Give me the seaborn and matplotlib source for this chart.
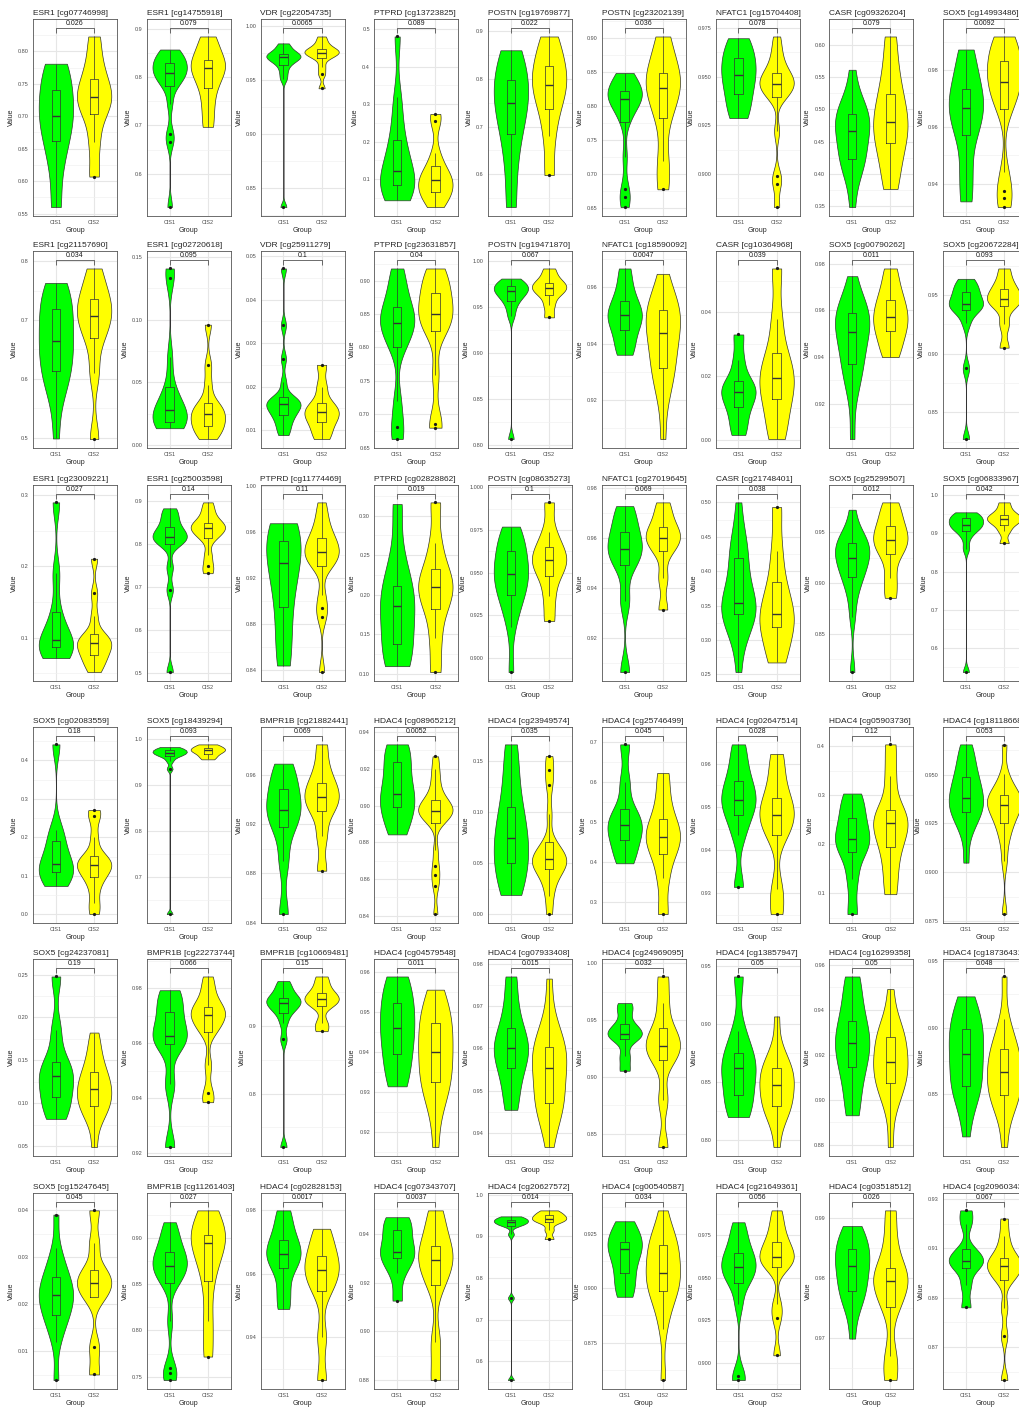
"""
Violin + box plots of probe methylation values, CIS1 vs CIS2, one panel per probe.
"""

import numpy as np
import pandas as pd
import matplotlib
matplotlib.use('Agg')
import matplotlib.pyplot as plt
import seaborn as sns

GROUPS = ['CIS1', 'CIS2']
PALETTE = {'CIS1': '#00FF00', 'CIS2': '#FFFF00'}

GENES = [
    'ESR1', 'ESR1', 'VDR', 'PTPRD', 'POSTN', 'POSTN', 'NFATC1', 'CASR', 'SOX5',
    'ESR1', 'ESR1', 'VDR', 'PTPRD', 'POSTN', 'NFATC1', 'CASR', 'SOX5', 'SOX5',
    'ESR1', 'ESR1', 'PTPRD', 'PTPRD', 'POSTN', 'NFATC1', 'CASR', 'SOX5', 'SOX5',
    'SOX5', 'SOX5', 'BMPR1B', 'HDAC4', 'HDAC4', 'HDAC4', 'HDAC4', 'HDAC4', 'HDAC4',
    'SOX5', 'BMPR1B', 'BMPR1B', 'HDAC4', 'HDAC4', 'HDAC4', 'HDAC4', 'HDAC4', 'HDAC4',
    'SOX5', 'BMPR1B', 'HDAC4', 'HDAC4', 'HDAC4', 'HDAC4', 'HDAC4', 'HDAC4', 'HDAC4',
]

PROBES = [
    'cg07746998', 'cg14755918', 'cg22054735', 'cg13723825', 'cg19769877',
    'cg23202139', 'cg15704408', 'cg09326204', 'cg14993486',
    'cg21157690', 'cg02720618', 'cg25911279', 'cg23631857', 'cg19471870',
    'cg18590092', 'cg10364968', 'cg00790262', 'cg20672284',
    'cg23009221', 'cg25003598', 'cg11774469', 'cg02828862', 'cg08635273',
    'cg27019645', 'cg21748401', 'cg25299507', 'cg06833967',
    'cg02083559', 'cg18439294', 'cg21882441', 'cg08965212', 'cg23949574',
    'cg25746499', 'cg02647514', 'cg05903736', 'cg18118668',
    'cg24237081', 'cg22273744', 'cg10669481', 'cg04579548', 'cg07933408',
    'cg24969095', 'cg13857947', 'cg16299358', 'cg18736431',
    'cg15247645', 'cg11261403', 'cg02828153', 'cg07343707', 'cg20627572',
    'cg00540587', 'cg21649361', 'cg03518512', 'cg20960343',
]

P_VALUES = [
    '0.026', '0.079', '0.0065', '0.089', '0.022', '0.036', '0.078', '0.079', '0.0092',
    '0.034', '0.095', '0.1', '0.04', '0.067', '0.0047', '0.039', '0.011', '0.093',
    '0.027', '0.14', '0.11', '0.019', '0.1', '0.069', '0.038', '0.012', '0.042',
    '0.18', '0.093', '0.069', '0.0052', '0.035', '0.045', '0.028', '0.12', '0.053',
    '0.19', '0.066', '0.15', '0.011', '0.015', '0.032', '0.05', '0.05', '0.048',
    '0.045', '0.027', '0.0017', '0.0037', '0.014', '0.034', '0.056', '0.026', '0.067',
]

CIS1_VALUES = [
    # row 1
    [0.56, 0.625, 0.662, 0.685, 0.70, 0.72, 0.74, 0.765, 0.781],
    [0.531, 0.666, 0.683, 0.745, 0.781, 0.79, 0.798, 0.804, 0.809, 0.815, 0.82, 0.826, 0.83, 0.838, 0.845, 0.851, 0.857],
    [0.832, 0.951, 0.958, 0.964, 0.967, 0.969, 0.9706, 0.972, 0.973, 0.9734, 0.976, 0.980, 0.9836],
    [0.044, 0.05, 0.07, 0.084, 0.095, 0.11, 0.123, 0.15, 0.18, 0.205, 0.26, 0.32, 0.48],
    [0.531, 0.62, 0.684, 0.72, 0.749, 0.775, 0.797, 0.83, 0.860],
    [0.652, 0.667, 0.679, 0.726, 0.777, 0.79, 0.80, 0.806, 0.811, 0.814, 0.817, 0.82, 0.822, 0.83, 0.838, 0.843, 0.8485],
    [0.9287, 0.934, 0.941, 0.947, 0.951, 0.955, 0.9597, 0.965, 0.9697],
    [0.349, 0.3925, 0.409, 0.418, 0.424, 0.435, 0.447, 0.457, 0.4665, 0.473, 0.48, 0.487, 0.4937, 0.499, 0.5073, 0.5222, 0.5615],
    [0.9338, 0.945, 0.9573, 0.962, 0.9666, 0.970, 0.9735, 0.98, 0.9874],
    # row 2
    [0.499, 0.566, 0.591, 0.605, 0.614, 0.628, 0.642, 0.655, 0.665, 0.678, 0.69, 0.705, 0.719, 0.73, 0.742, 0.755, 0.763],
    [0.0136, 0.016, 0.018, 0.0189, 0.022, 0.025, 0.0282, 0.032, 0.038, 0.0468, 0.07, 0.133, 0.1407],
    [0.0088, 0.010, 0.0115, 0.0125, 0.0135, 0.0142, 0.0148, 0.0154, 0.0159, 0.0163, 0.0167, 0.0171, 0.0175, 0.021, 0.0264, 0.0341, 0.0472],
    [0.663, 0.681, 0.72, 0.80, 0.815, 0.828, 0.836, 0.843, 0.851, 0.86, 0.878, 0.898, 0.918],
    [0.806, 0.94, 0.95, 0.957, 0.961, 0.964, 0.967, 0.969, 0.971, 0.9726, 0.975, 0.978, 0.981],
    [0.936, 0.940, 0.9449, 0.948, 0.950, 0.952, 0.955, 0.96, 0.9667],
    [0.0016, 0.006, 0.0103, 0.013, 0.015, 0.017, 0.0185, 0.025, 0.0331],
    [0.9049, 0.9235, 0.9306, 0.9344, 0.937, 0.941, 0.945, 0.948, 0.9506, 0.953, 0.955, 0.957, 0.9589, 0.9602, 0.9621, 0.9655, 0.9747],
    [0.8273, 0.8875, 0.926, 0.937, 0.939, 0.9405, 0.942, 0.945, 0.949, 0.9525, 0.956, 0.960, 0.9639],
    # row 3
    [0.0712, 0.079, 0.0865, 0.091, 0.0967, 0.11, 0.1363, 0.19, 0.2898],
    [0.5023, 0.693, 0.745, 0.7996, 0.806, 0.811, 0.8166, 0.822, 0.83, 0.8398, 0.855, 0.87, 0.8822],
    [0.844, 0.865, 0.895, 0.915, 0.933, 0.943, 0.9525, 0.96, 0.9675],
    [0.1093, 0.12, 0.1374, 0.165, 0.1856, 0.198, 0.2107, 0.245, 0.3147],
    [0.8916, 0.9178, 0.9278, 0.9332, 0.9368, 0.941, 0.944, 0.947, 0.9494, 0.952, 0.955, 0.959, 0.9625, 0.966, 0.970, 0.974, 0.977],
    [0.9065, 0.935, 0.9493, 0.953, 0.9555, 0.959, 0.9624, 0.968, 0.9728],
    [0.2534, 0.3024, 0.3209, 0.331, 0.3378, 0.342, 0.346, 0.35, 0.3542, 0.362, 0.375, 0.395, 0.4194, 0.4258, 0.4355, 0.4533, 0.50],
    [0.8125, 0.8667, 0.8873, 0.8985, 0.906, 0.911, 0.916, 0.921, 0.9246, 0.928, 0.932, 0.936, 0.9393, 0.942, 0.9459, 0.953, 0.9721],
    [0.5369, 0.86, 0.89, 0.9072, 0.912, 0.918, 0.9228, 0.928, 0.934, 0.9393, 0.945, 0.95, 0.9549],
    # row 4
    [0.0741, 0.092, 0.1095, 0.12, 0.131, 0.155, 0.1914, 0.22, 0.4414],
    [0.6201, 0.935, 0.952, 0.9619, 0.964, 0.967, 0.9691, 0.971, 0.973, 0.9748, 0.977, 0.980, 0.982],
    [0.8469, 0.89, 0.9172, 0.925, 0.9312, 0.939, 0.9481, 0.958, 0.9689],
    [0.8843, 0.892, 0.899, 0.903, 0.9064, 0.913, 0.9237, 0.929, 0.9333],
    [0.0192, 0.035, 0.0501, 0.062, 0.0745, 0.09, 0.1055, 0.135, 0.1666],
    [0.3976, 0.425, 0.4564, 0.475, 0.4929, 0.51, 0.5318, 0.60, 0.6942],
    [0.9315, 0.9435, 0.9481, 0.950, 0.9517, 0.954, 0.956, 0.960, 0.9645],
    [0.0581, 0.13, 0.1851, 0.198, 0.2101, 0.23, 0.2527, 0.28, 0.3034],
    [0.905, 0.9199, 0.9256, 0.9286, 0.9307, 0.933, 0.935, 0.9365, 0.9381, 0.941, 0.944, 0.946, 0.9488, 0.952, 0.957, 0.961, 0.9654],
    # row 5
    [0.0817, 0.095, 0.1069, 0.12, 0.1316, 0.14, 0.1483, 0.185, 0.2477],
    [0.9222, 0.945, 0.9598, 0.961, 0.9624, 0.967, 0.9713, 0.976, 0.9792],
    [0.7211, 0.88, 0.905, 0.9196, 0.925, 0.93, 0.9343, 0.937, 0.94, 0.9417, 0.95, 0.958, 0.9662],
    [0.9315, 0.935, 0.9396, 0.943, 0.9461, 0.949, 0.9523, 0.956, 0.959],
    [0.9455, 0.951, 0.9554, 0.958, 0.9601, 0.962, 0.9648, 0.970, 0.977],
    [0.9054, 0.918, 0.9332, 0.936, 0.9379, 0.942, 0.9467, 0.958, 0.9649],
    [0.8198, 0.829, 0.839, 0.852, 0.8619, 0.868, 0.8748, 0.8935, 0.9408],
    [0.8932, 0.905, 0.9146, 0.920, 0.9252, 0.930, 0.9349, 0.945, 0.9548],
    [0.818, 0.8402, 0.8486, 0.8532, 0.8563, 0.862, 0.868, 0.874, 0.88, 0.885, 0.89, 0.895, 0.8988, 0.904, 0.91, 0.917, 0.9235],
    # row 6
    [0.0039, 0.012, 0.015, 0.0167, 0.0178, 0.019, 0.0202, 0.0212, 0.022, 0.0228, 0.0237, 0.0247, 0.0259, 0.0275, 0.029, 0.032, 0.0391],
    [0.7464, 0.754, 0.759, 0.81, 0.8507, 0.856, 0.861, 0.866, 0.8696, 0.873, 0.877, 0.881, 0.885, 0.892, 0.90, 0.909, 0.9168],
    [0.9489, 0.955, 0.9619, 0.964, 0.9663, 0.9685, 0.9708, 0.975, 0.98],
    [0.9126, 0.924, 0.93, 0.931, 0.9327, 0.937, 0.9415, 0.945, 0.9468],
    [0.5544, 0.752, 0.905, 0.9256, 0.928, 0.931, 0.9336, 0.936, 0.938, 0.94, 0.943, 0.946, 0.948],
    [0.8961, 0.901, 0.9068, 0.913, 0.9179, 0.920, 0.9214, 0.926, 0.9308],
    [0.8897, 0.892, 0.9345, 0.9471, 0.950, 0.953, 0.9563, 0.959, 0.962, 0.9643, 0.970, 0.976, 0.9826],
    [0.9699, 0.9745, 0.9762, 0.9772, 0.9778, 0.9790, 0.9800, 0.981, 0.9819, 0.9827, 0.9835, 0.9842, 0.9848, 0.9858, 0.9868, 0.9878, 0.9886],
    [0.8861, 0.895, 0.9019, 0.904, 0.9049, 0.907, 0.9096, 0.92, 0.9254],
]

CIS2_VALUES = [
    # row 1
    [0.607, 0.66, 0.703, 0.718, 0.729, 0.742, 0.758, 0.785, 0.823],
    [0.697, 0.74, 0.778, 0.80, 0.819, 0.826, 0.835, 0.86, 0.884],
    [0.942, 0.955, 0.962, 0.9697, 0.972, 0.974, 0.975, 0.976, 0.977, 0.9784, 0.981, 0.985, 0.990],
    [0.026, 0.045, 0.058, 0.066, 0.078, 0.09, 0.098, 0.108, 0.12, 0.136, 0.17, 0.254, 0.274],
    [0.598, 0.68, 0.736, 0.765, 0.787, 0.805, 0.827, 0.855, 0.889],
    [0.678, 0.72, 0.783, 0.81, 0.826, 0.838, 0.849, 0.87, 0.902],
    [0.883, 0.895, 0.899, 0.922, 0.9393, 0.941, 0.943, 0.945, 0.946, 0.947, 0.949, 0.9505, 0.9519, 0.955, 0.959, 0.964, 0.9706],
    [0.377, 0.415, 0.4475, 0.465, 0.48, 0.50, 0.5245, 0.56, 0.613],
    [0.9318, 0.935, 0.9375, 0.944, 0.9665, 0.969, 0.972, 0.974, 0.9759, 0.978, 0.980, 0.982, 0.9832, 0.986, 0.989, 0.991, 0.992],
    # row 2
    [0.498, 0.61, 0.669, 0.69, 0.707, 0.72, 0.735, 0.755, 0.7875],
    [0.005, 0.009, 0.013, 0.0157, 0.019, 0.022, 0.025, 0.028, 0.031, 0.0335, 0.048, 0.064, 0.096],
    [0.0079, 0.0098, 0.0119, 0.013, 0.0141, 0.015, 0.0162, 0.02, 0.025],
    [0.68, 0.686, 0.759, 0.824, 0.832, 0.842, 0.8505, 0.86, 0.87, 0.8815, 0.895, 0.907, 0.918],
    [0.9387, 0.952, 0.9628, 0.967, 0.9708, 0.974, 0.9763, 0.983, 0.992],
    [0.906, 0.9206, 0.9262, 0.9292, 0.9312, 0.935, 0.938, 0.941, 0.9437, 0.946, 0.948, 0.950, 0.952, 0.953, 0.9546, 0.9574, 0.9648],
    [0.0003, 0.006, 0.0128, 0.016, 0.0193, 0.023, 0.0272, 0.038, 0.0538],
    [0.94, 0.9455, 0.951, 0.954, 0.957, 0.961, 0.9644, 0.970, 0.978],
    [0.9052, 0.925, 0.9407, 0.944, 0.9469, 0.951, 0.9554, 0.962, 0.9727],
    # row 3
    [0.0516, 0.062, 0.07, 0.0753, 0.083, 0.088, 0.0921, 0.096, 0.1, 0.1047, 0.13, 0.162, 0.2107],
    [0.7317, 0.749, 0.775, 0.8127, 0.82, 0.83, 0.836, 0.84, 0.844, 0.8483, 0.862, 0.878, 0.896],
    [0.8383, 0.8857, 0.8935, 0.905, 0.9304, 0.933, 0.936, 0.939, 0.9425, 0.945, 0.948, 0.951, 0.9545, 0.96, 0.966, 0.975, 0.9856],
    [0.1018, 0.145, 0.1818, 0.196, 0.2091, 0.22, 0.2321, 0.265, 0.3168],
    [0.9216, 0.936, 0.9482, 0.953, 0.9572, 0.961, 0.965, 0.974, 0.9912],
    [0.9315, 0.944, 0.9547, 0.958, 0.9601, 0.962, 0.9644, 0.969, 0.9743],
    [0.2674, 0.29, 0.3185, 0.328, 0.3378, 0.36, 0.3847, 0.43, 0.4932],
    [0.8855, 0.905, 0.9288, 0.936, 0.9425, 0.949, 0.9559, 0.968, 0.9793],
    [0.8742, 0.905, 0.9228, 0.931, 0.9376, 0.943, 0.948, 0.962, 0.9809],
    # row 4
    [0.0009, 0.03, 0.07, 0.0966, 0.108, 0.12, 0.1284, 0.136, 0.144, 0.1526, 0.20, 0.255, 0.2707],
    [0.9554, 0.962, 0.9676, 0.972, 0.9748, 0.977, 0.9799, 0.984, 0.9878],
    [0.8821, 0.91, 0.9304, 0.936, 0.942, 0.948, 0.9535, 0.966, 0.9845],
    [0.8409, 0.856, 0.862, 0.867, 0.876, 0.8906, 0.8925, 0.894, 0.8955, 0.8965, 0.8971, 0.898, 0.899, 0.9005, 0.902, 0.9031, 0.906, 0.910, 0.915, 0.920, 0.9268],
    [0.0004, 0.018, 0.03, 0.038, 0.0443, 0.047, 0.05, 0.052, 0.0544, 0.057, 0.06, 0.065, 0.0713, 0.098, 0.1266, 0.1412, 0.1552],
    [0.2709, 0.36, 0.42, 0.443, 0.4639, 0.485, 0.507, 0.56, 0.623],
    [0.9252, 0.931, 0.9435, 0.946, 0.9482, 0.950, 0.9522, 0.957, 0.9623],
    [0.0986, 0.15, 0.1953, 0.22, 0.2426, 0.256, 0.2709, 0.3385, 0.4034],
    [0.8787, 0.9056, 0.9157, 0.9213, 0.925, 0.928, 0.9305, 0.9325, 0.9344, 0.936, 0.937, 0.938, 0.9395, 0.9416, 0.9447, 0.9503, 0.9653],
    # row 5
    [0.0488, 0.0769, 0.0875, 0.0933, 0.0972, 0.102, 0.107, 0.112, 0.1165, 0.121, 0.126, 0.131, 0.1367, 0.145, 0.155, 0.168, 0.1823],
    [0.9385, 0.9418, 0.952, 0.9642, 0.966, 0.968, 0.9703, 0.971, 0.972, 0.973, 0.976, 0.980, 0.9842],
    [0.8922, 0.905, 0.9294, 0.935, 0.9392, 0.944, 0.949, 0.96, 0.973],
    [0.9163, 0.9257, 0.9293, 0.9312, 0.9325, 0.9345, 0.9365, 0.9383, 0.94, 0.942, 0.944, 0.9455, 0.9473, 0.949, 0.951, 0.953, 0.9557],
    [0.9367, 0.9428, 0.9451, 0.9464, 0.9472, 0.949, 0.951, 0.9533, 0.9554, 0.957, 0.958, 0.959, 0.9603, 0.9616, 0.9635, 0.9671, 0.9765],
    [0.8383, 0.88, 0.9151, 0.922, 0.9274, 0.935, 0.9429, 0.965, 0.9883],
    [0.794, 0.8146, 0.8224, 0.8267, 0.8295, 0.834, 0.839, 0.843, 0.847, 0.851, 0.855, 0.858, 0.8619, 0.8655, 0.8708, 0.8806, 0.9064],
    [0.8791, 0.8956, 0.9018, 0.9052, 0.9075, 0.910, 0.9125, 0.9145, 0.9168, 0.919, 0.922, 0.925, 0.9278, 0.9295, 0.9321, 0.9368, 0.9492],
    [0.81, 0.8328, 0.8414, 0.8462, 0.8493, 0.854, 0.858, 0.862, 0.8663, 0.871, 0.875, 0.879, 0.8838, 0.8882, 0.8947, 0.9068, 0.9385],
    # row 6
    [0.0051, 0.011, 0.0216, 0.023, 0.0246, 0.026, 0.0273, 0.033, 0.04],
    [0.7718, 0.81, 0.8536, 0.878, 0.8939, 0.899, 0.9029, 0.915, 0.9296],
    [0.9264, 0.94, 0.9546, 0.958, 0.9611, 0.963, 0.9656, 0.970, 0.9742],
    [0.88, 0.8955, 0.9191, 0.925, 0.9291, 0.932, 0.9352, 0.942, 0.9496],
    [0.8936, 0.915, 0.9336, 0.938, 0.9416, 0.946, 0.9504, 0.956, 0.9624],
    [0.8578, 0.8815, 0.8904, 0.8953, 0.8986, 0.901, 0.903, 0.905, 0.9072, 0.910, 0.913, 0.916, 0.9197, 0.921, 0.9229, 0.9265, 0.9358],
    [0.9043, 0.9263, 0.9345, 0.9563, 0.958, 0.960, 0.9623, 0.965, 0.968, 0.9709, 0.976, 0.982, 0.9896],
    [0.963, 0.967, 0.9751, 0.9775, 0.9795, 0.9805, 0.9816, 0.986, 0.9912],
    [0.8566, 0.8745, 0.886, 0.8972, 0.899, 0.901, 0.9028, 0.904, 0.905, 0.9062, 0.91, 0.915, 0.9221],
]

# Page layout (pixels at 100 dpi)
FIG_W, FIG_H = 1019, 1407
PANEL_TOPS = [19, 251, 485, 727, 959, 1193]
PANEL_BOTTOMS = [216, 448, 681, 923, 1156, 1389]
PANEL_W = 84
COL_PITCH = 113.75
FIRST_RIGHT = 117
N_COLS = 9


def nrd0(kde):
    """Silverman's rule of thumb (R's bw.nrd0) as a gaussian_kde factor."""
    x = np.asarray(kde.dataset).ravel()
    sd = x.std(ddof=1)
    iqr = np.subtract(*np.percentile(x, [75, 25]))
    lo = min(sd, iqr / 1.34) if iqr > 0 else sd
    bw = 0.9 * lo * len(x) ** -0.2
    return bw / sd


def extended_breaks(dmin, dmax, m=5):
    """Talbot et al. extended labelling, the algorithm behind ggplot's default breaks."""
    qs = [1, 5, 2, 2.5, 4, 3]
    w = [0.25, 0.2, 0.5, 0.05]
    n = len(qs)
    rng = dmax - dmin
    best_score, best = -2.0, None
    j = 1
    done = False
    while not done:
        for qi, q in enumerate(qs):
            sm = 2 - qi / (n - 1) - j
            if w[0] * sm + w[1] + w[2] + w[3] < best_score:
                done = True
                break
            k = 2
            while True:
                dm = 2 - (k - 1) / (m - 1) if k >= m else 1.0
                if w[0] * sm + w[1] + w[2] * dm + w[3] < best_score:
                    break
                delta = rng / (k + 1) / j / q
                z = int(np.ceil(np.log10(delta)))
                while True:
                    step = j * q * 10.0 ** z
                    span = step * (k - 1)
                    cm = 1.0
                    if span > rng:
                        half = (span - rng) / 2
                        cm = 1 - 0.5 * (2 * half ** 2) / (0.1 * rng) ** 2
                    if w[0] * sm + w[1] * cm + w[2] * dm + w[3] < best_score:
                        break
                    min_start = int(np.floor(dmax / step) * j - (k - 1) * j)
                    max_start = int(np.ceil(dmin / step) * j)
                    for start in range(min_start, max_start + 1):
                        lmin = start * (step / j)
                        lmax = lmin + step * (k - 1)
                        rem = lmin % step
                        v = 1 if ((rem < 1e-10 or step - rem < 1e-10) and lmin <= 0 <= lmax) else 0
                        s = 1 - qi / (n - 1) - j + v
                        c = 1 - 0.5 * ((dmax - lmax) ** 2 + (dmin - lmin) ** 2) / (0.1 * rng) ** 2
                        r = (k - 1) / (lmax - lmin)
                        rt = (m - 1) / (max(lmax, dmax) - min(dmin, lmin))
                        g = 2 - max(r / rt, rt / r)
                        score = w[0] * s + w[1] * c + w[2] * g + w[3]
                        if score > best_score:
                            best_score, best = score, (lmin, lmax, step)
                    z += 1
                k += 1
        j += 1
    lmin, lmax, step = best
    ticks = np.round(np.arange(lmin, lmax + step / 2, step), 10)
    return ticks[(ticks >= dmin - 1e-12) & (ticks <= dmax + 1e-12)], step


def format_ticks(ticks):
    """Same number of decimals for every label, like R's format()."""
    for d in range(0, 8):
        if all(abs(round(t, d) - t) < 1e-9 for t in ticks):
            break
    return [f'{t:.{d}f}' for t in ticks]


def draw_panel(ax, idx):
    v1, v2 = CIS1_VALUES[idx], CIS2_VALUES[idx]
    df = pd.DataFrame({
        'Group': ['CIS1'] * len(v1) + ['CIS2'] * len(v2),
        'Value': v1 + v2,
    })

    sns.violinplot(
        data=df, x='Group', y='Value', hue='Group', order=GROUPS, hue_order=GROUPS,
        palette=PALETTE, saturation=1, cut=0, width=0.9, density_norm='area',
        inner=None, linewidth=0.5, linecolor='#333333', bw_method=nrd0,
        legend=False, ax=ax,
    )
    sns.boxplot(
        data=df, x='Group', y='Value', order=GROUPS, width=0.22, fill=False,
        color='#333333', linewidth=0.5, whis=1.5, fliersize=1.3, showcaps=False,
        medianprops={'linewidth': 1.0},
        flierprops={'marker': 'o', 'markerfacecolor': '#1a1a1a', 'markeredgecolor': '#1a1a1a'},
        ax=ax,
    )

    # comparison bracket sits 5% of the data range above the maximum
    lo_d = min(min(v1), min(v2))
    hi_d = max(max(v1), max(v2))
    bracket = hi_d + 0.05 * (hi_d - lo_d)
    span = bracket - lo_d
    ylo, yhi = lo_d - 0.05 * span, bracket + 0.05 * span
    tip = 0.03 * span
    ax.plot([0, 0, 1, 1], [bracket - tip, bracket, bracket, bracket - tip],
            color='#333333', lw=0.5, solid_capstyle='butt')
    ax.text(0.5, bracket + 0.006 * span, P_VALUES[idx], ha='center', va='bottom',
            fontsize=5, color='#1a1a1a')

    # axes, ticks and grid in the style of theme_bw
    ax.set_xlim(-0.6, 1.6)
    ax.set_ylim(ylo, yhi)
    major, step = extended_breaks(ylo, yhi)
    minor = [t + step / 2 for t in major[:-1]]
    if major[0] - step / 2 >= ylo:
        minor.insert(0, major[0] - step / 2)
    if major[-1] + step / 2 <= yhi:
        minor.append(major[-1] + step / 2)
    ax.set_yticks(major)
    ax.set_yticklabels(format_ticks(major))
    ax.set_yticks(minor, minor=True)
    ax.set_axisbelow(True)
    ax.grid(True, which='major', color='#E6E6E6', lw=0.8)
    ax.grid(True, which='minor', axis='y', color='#F0F0F0', lw=0.45)
    ax.tick_params(axis='both', which='major', length=1.8, width=0.5, color='#333333',
                   labelsize=4, labelcolor='#4D4D4D', pad=1.2)
    ax.tick_params(axis='y', which='minor', length=0)
    for spine in ax.spines.values():
        spine.set_color('#555555')
        spine.set_linewidth(0.6)

    ax.set_title(f'{GENES[idx]} [{PROBES[idx]}]', loc='left', fontsize=6, pad=3)
    ax.set_xlabel('Group', fontsize=5, labelpad=1)
    ax.set_ylabel('Value', fontsize=5, labelpad=2)


def main():
    sns.set_theme(style='white')
    plt.rcParams['font.family'] = ['Liberation Sans', 'DejaVu Sans']

    fig = plt.figure(figsize=(FIG_W / 100, FIG_H / 100), dpi=100)
    for idx in range(len(GENES)):
        row, col = divmod(idx, N_COLS)
        right = FIRST_RIGHT + COL_PITCH * col
        left = right - PANEL_W
        top, bottom = PANEL_TOPS[row], PANEL_BOTTOMS[row]
        ax = fig.add_axes([left / FIG_W, 1 - bottom / FIG_H,
                           PANEL_W / FIG_W, (bottom - top) / FIG_H])
        draw_panel(ax, idx)

    fig.savefig('out.png', dpi=100)
    plt.close(fig)


if __name__ == '__main__':
    main()
